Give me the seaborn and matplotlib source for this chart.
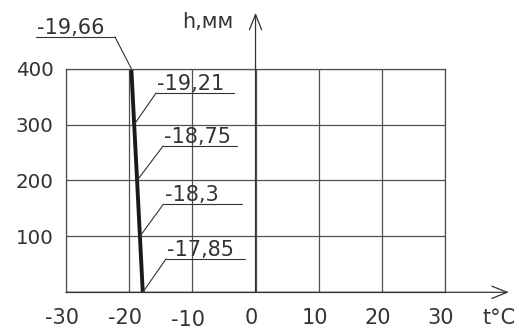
import matplotlib
matplotlib.use("Agg")
import matplotlib.pyplot as plt
import matplotlib.transforms as mtransforms
import seaborn as sns

# ----------------------------------------------------------------------
# Data: temperature profile over height
# ----------------------------------------------------------------------
heights = [0, 100, 200, 300, 400]
temps = [-17.85, -18.3, -18.75, -19.21, -19.66]
temp_labels = ["-17,85", "-18,3", "-18,75", "-19,21", "-19,66"]

x_ticks = [-30, -20, -10, 0, 10, 20, 30]
y_ticks = [100, 200, 300, 400]

# leader layout for each label: underline start, underline end, underline height
label_ux0 = [-14.17, -14.6, -14.64, -15.75, -22.24]
label_ux1 = [-1.66, -2.2, -2.93, -3.40, -34.75]
label_uy = [59.6, 157.4, 261.7, 356.5, 456.6]

sns.set_style("white")
plt.rcParams["font.family"] = ["DejaVu Sans"]
ink = "#333333"
grid_c = "#505050"

fig = plt.figure(figsize=(5.19, 3.32), dpi=100)
ax = fig.add_axes([0.1272, 0.1196, 0.7303, 0.6735])

sns.lineplot(x=temps, y=heights, sort=False, estimator=None, ax=ax,
             color="#1a1a1a", linewidth=2.8)

ax.set_xlim(-30, 30)
ax.set_ylim(0, 400)
ax.set_xticks(x_ticks)
ax.set_yticks(y_ticks)
ax.set_xticklabels([str(v) for v in x_ticks])
ax.set_yticklabels([str(v) for v in y_ticks])
ax.tick_params(axis="both", length=0, colors=ink)
ax.tick_params(axis="y", pad=9, labelsize=14.3)
ax.tick_params(axis="x", pad=11, labelsize=15)
ax.grid(True, color=grid_c, linewidth=0.9)
for s in ax.spines.values():
    s.set_color(grid_c)
    s.set_linewidth(0.9)
ax.set_xlabel("")
ax.set_ylabel("")

# nudge x tick labels a little left, "-10" a little lower
for lab in ax.get_xticklabels():
    dy = -1.5 / 72 if lab.get_text() == "-10" else 0
    lab.set_transform(lab.get_transform() +
                      mtransforms.ScaledTranslation(-3 / 72, dy, fig.dpi_scale_trans))

# axes with open arrowheads
arrow = dict(arrowstyle="->,head_length=0.55,head_width=0.22", mutation_scale=20,
             lw=0.9, color=ink, shrinkA=0, shrinkB=0)
ax.annotate("", xy=(0, 500), xytext=(0, 0), arrowprops=arrow, annotation_clip=False)
ax.annotate("", xy=(40.1, 0), xytext=(-30, 0), arrowprops=arrow, annotation_clip=False)
ax.text(-11.6, 473, "h,мм", fontsize=15, color=ink, ha="left", va="baseline", clip_on=False)
ax.text(38.5, -46, "t°C", fontsize=15, color=ink, ha="center", va="center", clip_on=False)

# value labels with underline and leader to the profile
for t, h, lab, x0, x1, uy in zip(temps, heights, temp_labels, label_ux0, label_ux1, label_uy):
    ax.plot([x0, x1], [uy, uy], color=ink, lw=0.8, clip_on=False)
    ax.plot([x0, t], [uy, h], color=ink, lw=0.8, clip_on=False)
    tx = min(x0, x1) + 0.2
    ax.text(tx, uy + 5.5, lab, fontsize=15, color=ink, ha="left", va="baseline", clip_on=False)

fig.savefig("out.png", dpi=100)
